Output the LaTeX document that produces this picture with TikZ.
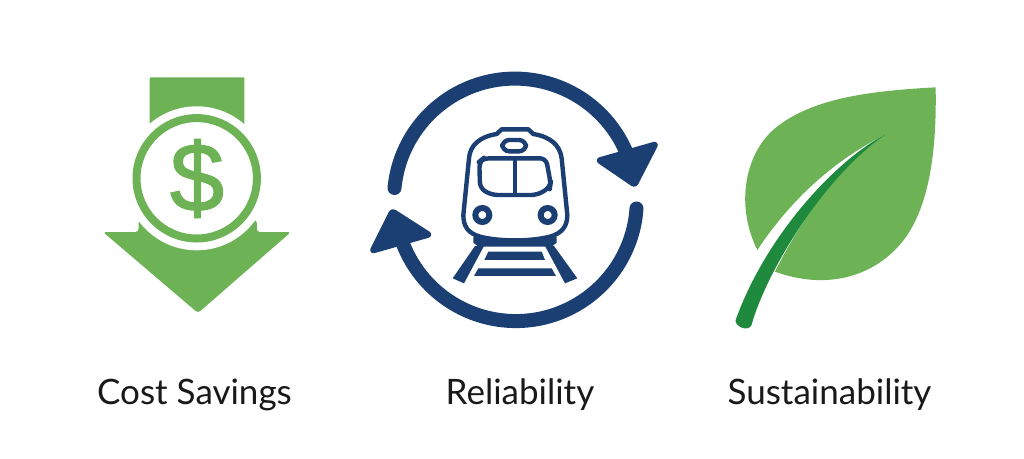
\documentclass[tikz,border=0pt]{standalone}
\usepackage{fontspec}
\setmainfont{Lato}
\newfontface\dollarfont{Liberation Sans}[FakeBold=1.5]
\definecolor{lgreen}{RGB}{109,179,86}
\definecolor{dgreen}{RGB}{31,138,61}
\definecolor{navy}{RGB}{27,63,115}
\tikzset{
  label text/.style={font=\fontsize{35}{38}\selectfont, text=black!90, inner sep=0pt, anchor=base},
  navy line/.style={draw=navy, line width=4.4pt, line join=round, fill=none},
  navy head/.style={fill=navy, draw=navy, line width=4pt, line join=round, rounded corners=3pt},
  cycle arc/.style={draw=navy, line width=14pt, line cap=round}
}
\begin{document}
\begin{tikzpicture}[x=1pt,y=-1pt]
\useasboundingbox (0,0) rectangle (1024,458);
\fill[white] (0,0) rectangle (1024,458);
% cost icon
\fill[lgreen, rounded corners=1pt] (149.5,135) -- (149.5,77.3) -- (244.3,77.3) -- (244.3,135) -- cycle;
\fill[lgreen, line join=round, rounded corners=3pt] (138.5,220) -- (138.5,232) -- (103,232) -- (198,313) -- (291,232) -- (256.8,232) -- (256.8,220) -- cycle;
\fill[white] (196.7,178.3) circle (72);
\draw[lgreen, line width=8pt] (196.7,178.3) circle (60.2);
\node[inner sep=0pt, text=lgreen, font=\dollarfont\fontsize{97}{97}\selectfont] (dollar) at (197,178.5) {\$};
% cycle icon
\draw[cycle arc] (394.5,188) arc[start angle=-174.5, end angle=-22, radius=121];
\draw[cycle arc] (636.5,208.5) arc[start angle=4, end angle=160, radius=121];
\path[navy head] (657,143) -- (635,186) -- (597,160) -- cycle;
\path[navy head] (371,252) -- (392,210) -- (431,235) -- cycle;
% train
\begin{scope}[shift={(450,120)}, x=0.3333pt, y=-0.3333pt]
\draw[navy line] (140,42) -- (155,28) -- (235,28) -- (250,42) .. controls (300,50) and (330,75) .. (335,115) -- (352,285) .. controls (352,320) and (335,340) .. (300,350) .. controls (240,365) and (150,365) .. (90,350) .. controls (55,340) and (40,320) .. (40,285) -- (57,115) .. controls (60,75) and (90,50) .. (140,42) -- cycle;
\draw[navy line, rounded corners=6pt] (100,115) -- (288,115) -- (302,190) -- (300,202) -- (262,225) -- (125,225) -- (90,205) -- (88,125) -- cycle;
\draw[navy line] (195,115) -- (195,225);
\draw[navy line, rounded corners=7pt] (157,60) rectangle (228,94);
\draw[navy, line width=6pt] (97,285) circle (21);
\draw[navy, line width=6pt] (293,285) circle (21);
\fill[navy] (70,350) .. controls (140,368) and (250,368) .. (320,350) -- (320,368) -- (305,380) -- (85,380) -- (70,368) -- cycle;
\fill[navy] (75,378) -- (102,378) -- (42,490) -- (8,475) -- cycle;
\fill[navy] (285,378) -- (312,378) -- (382,475) -- (345,490) -- cycle;
\fill[navy] (115,395) -- (275,395) -- (285,420) -- (103,420) -- cycle;
\fill[navy] (85,445) -- (305,445) -- (318,468) -- (72,468) -- cycle;
\end{scope}
% leaf
\begin{scope}[shift={(725,75)}, x=0.3333pt, y=-0.3333pt]
\fill[lgreen] (632,37) .. controls (430,48) and (260,70) .. (150,160) .. controls (60,235) and (30,390) .. (97,525) .. controls (180,400) and (300,270) .. (482,178) .. controls (350,260) and (230,430) .. (150,590) .. controls (300,645) and (450,610) .. (540,490) .. controls (620,380) and (635,200) .. (632,37) -- cycle;
\fill[dgreen] (482,178) .. controls (340,250) and (125,475) .. (32,735) .. controls (28,752) and (65,772) .. (79,752) .. controls (120,600) and (290,310) .. (482,178) -- cycle;
\end{scope}
% labels
\node[label text] (cost) at (194.5,404) {Cost Savings};
\node[label text] (rel) at (520,404) {Reliability};
\node[label text] (sus) at (829.5,404) {Sustainability};
\end{tikzpicture}
\end{document}
